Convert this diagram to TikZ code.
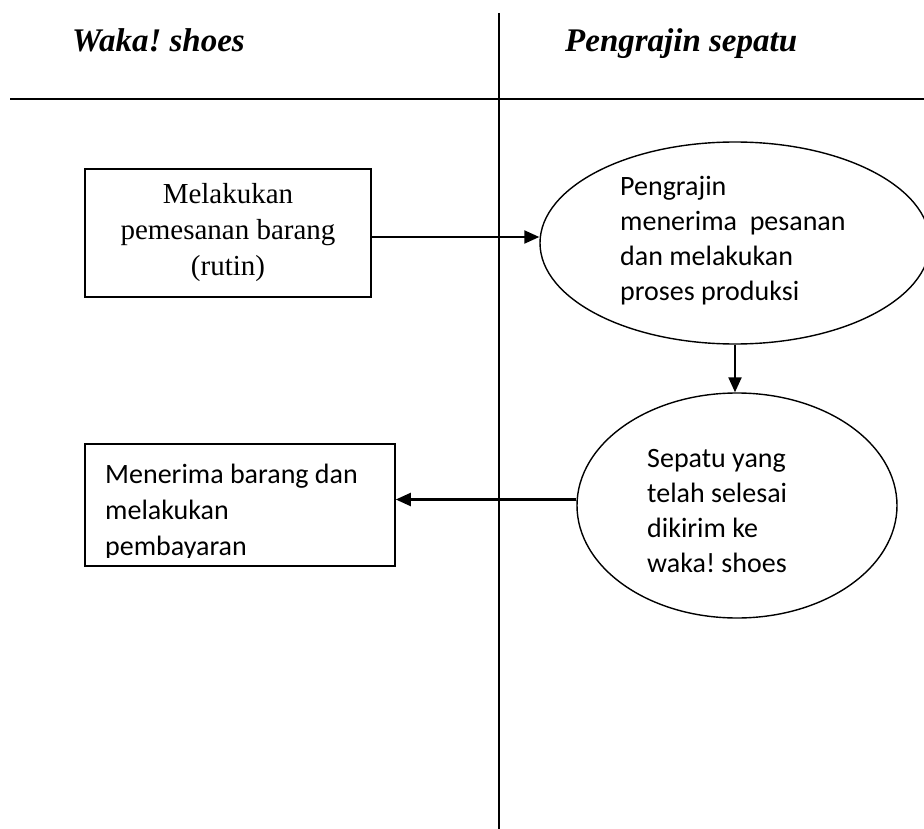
\documentclass[tikz,border=0pt]{standalone}
\usepackage{fontspec}
\setmainfont{Liberation Serif}
\newfontfamily\calfont{Carlito}
\usetikzlibrary{arrows.meta,shapes.geometric}
\frenchspacing
\begin{document}
\begin{tikzpicture}[x=1pt,y=-1pt,
  laneline/.style={line width=1.8pt},
  conn/.style={line width=2.2pt,-{Triangle[length=15pt,width=13pt]}},
  boxnode/.style={draw,line width=1.6pt,rectangle,inner sep=0pt},
  ellnode/.style={draw,line width=1.4pt,ellipse,inner sep=0pt},
  lanetitle/.style={font=\fontsize{33}{40}\selectfont\bfseries\itshape,anchor=base west,inner sep=0pt},
  sanstext/.style={font=\calfont\fontsize{28}{35}\selectfont,align=left,anchor=base west,inner sep=0pt},
  seriftext/.style={font=\fontsize{29}{36}\selectfont,align=center,inner sep=0pt}]
\useasboundingbox (0,0) rectangle (924,829);
\clip (0,0) rectangle (924,829);
\fill[white] (0,0) rectangle (924,829);
% lanes
\draw[laneline] (499,13) -- (499,829);
\draw[laneline] (10,99) -- (924,99);
\node[lanetitle] (h1) at (72,52) {Waka! shoes};
\node[lanetitle] (h2) at (565,52) {Pengrajin sepatu};
% shapes
\node[boxnode,seriftext,minimum width=286pt,minimum height=128pt] (b1) at (228,233) {Melakukan\\pemesanan barang\\(rutin)};
\node[ellnode,minimum width=390pt,minimum height=202pt] (e1) at (735,243) {};
\node[sanstext] (t2) at (620,300) {Pengrajin\\menerima\ \ pesanan\\dan melakukan\\proses produksi};
\node[ellnode,minimum width=320pt,minimum height=225pt] (e2) at (737,505.5) {};
\node[sanstext] (t3) at (647,572) {Sepatu yang\\telah selesai\\dikirim ke\\waka! shoes};
\node[boxnode,minimum width=310pt,minimum height=122pt] (b2) at (240,505) {};
\begin{scope}
\clip (85,444) rectangle (395,557);
\node[sanstext,font=\calfont\fontsize{28}{36}\selectfont] (t4) at (105,555) {Menerima barang dan\\melakukan\\pembayaran};
\end{scope}
% connectors
\draw[conn] ([yshift=-4pt]b1.east) -- ([yshift=-4pt]b1.east -| e1.west);
\draw[conn] (e1.south) -- (e1.south |- e2.north);
\draw[conn] ([yshift=6pt]e2.west) -- ([yshift=6pt]e2.west -| b2.east);
\end{tikzpicture}
\end{document}
